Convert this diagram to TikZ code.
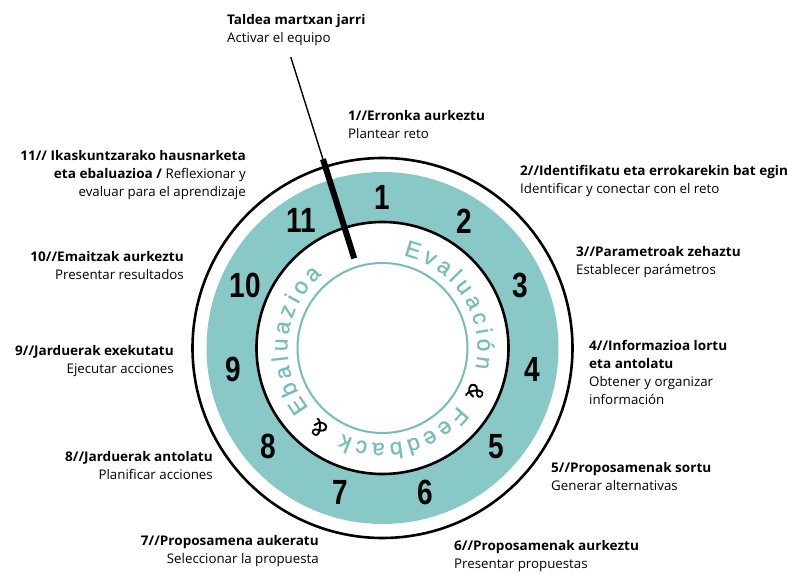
\documentclass[tikz,border=0pt]{standalone}
\usepackage{fontspec}
\setmainfont{Open Sans}[BoldFeatures={FakeStretch=1.02}]
\newfontfamily\numfont[FakeStretch=0.8]{Liberation Sans}
\newfontfamily\arcfont[FakeBold=0.6]{Liberation Sans}
\usepackage{tikz}
\definecolor{ringTeal}{RGB}{136,200,199}
\definecolor{textTeal}{RGB}{118,188,186}

\begin{document}
\begin{tikzpicture}[x=1pt, y=1pt,
  stepnum/.style={font=\numfont\bfseries\fontsize{35}{35}\selectfont, inner sep=0pt},
  stepleft/.style={anchor=west, align=left, inner sep=0pt,
                   font=\fontsize{13.3}{18}\selectfont},
  stepright/.style={anchor=east, align=right, inner sep=0pt,
                    font=\fontsize{13.3}{18}\selectfont},
  arcletter/.style={font=\arcfont\fontsize{23}{23}\selectfont, inner sep=0pt,
                    anchor=base, text=textTeal},
  amp/.style={arcletter, text=black},
]
  \useasboundingbox (-382.5,-225) rectangle (404.5,348);

  % ring
  \fill[ringTeal, even odd rule] (0,0) circle (176) (0,0) circle (126);
  \draw[line width=2.6pt] (0,0) circle (190);
  \draw[line width=2.6pt] (0,0) circle (126);
  \draw[textTeal, line width=2pt] (0,0) circle (85);

  % step numbers
  \node[stepnum] (n1)  at (90:151)      {1};
  \node[stepnum] (n2)  at (57.3:151)    {2};
  \node[stepnum] (n3)  at (24.5:151)    {3};
  \node[stepnum] (n4)  at (-8.2:151)    {4};
  \node[stepnum] (n5)  at (-40.9:151)   {5};
  \node[stepnum] (n6)  at (-73.6:151)   {6};
  \node[stepnum] (n7)  at (-106.4:151)  {7};
  \node[stepnum] (n8)  at (-139.1:151)  {8};
  \node[stepnum] (n9)  at (-171.8:151)  {9};
  \node[stepnum] (n10) at (155.5:151)   {10};
  \node[stepnum] (n11) at (122.7:151)   {11};

  % inner circular text, letter by letter
  \foreach \ch/\ang [count=\i] in {E/72.7, v/62.2, a/52.5, l/44.7, u/36.8,
      a/26.7, c/17.0, i/9.5, ó/1.7, n/-8.4}
    \node[arcletter, rotate=\ang-90] (ev\i) at (\ang:95) {\ch};
  \foreach \ch/\ang [count=\i] in {F/-41.6, e/-52.0, e/-62.1, d/-72.1, b/-82.2,
      a/-92.3, c/-102.0, k/-111.5}
    \node[arcletter, rotate=\ang-90] (fb\i) at (\ang:95) {\ch};
  \foreach \ch/\ang [count=\i] in {E/-145.6, b/-156.1, a/-165.9, l/-173.9, u/-181.8,
      a/-191.6, z/-201.2, i/-208.8, o/-216.7, a/-226.6}
    \node[arcletter, rotate=\ang-90] (eb\i) at (\ang:95) {\ch};
  \node[amp, rotate=-115.3] (amp1) at (-25.3:95) {\&};
  \node[amp, rotate=-218.5] (amp2) at (-128.5:95) {\&};

  % hand
  \coordinate (handtip)  at (107.5:94);
  \coordinate (handknee) at (107.5:198);
  \coordinate (handend)  at (107.5:305);
  \draw[line width=1.4pt] (handend) -- (handknee);
  \draw[line width=6pt] (handknee) -- (handtip);

  % labels
  \node[stepleft] (start) at (-155.5,318) {\textbf{Taldea martxan jarri}\\Activar el equipo};
  \node[stepleft] (s1) at (-34.5,223.5) {\textbf{1//Erronka aurkeztu}\\Plantear reto};
  \node[stepleft] (s2) at (137.5,167) {\textbf{2//Identifikatu eta errokarekin bat egin}\\Identificar y conectar con el reto};
  \node[stepleft] (s3) at (193.5,86) {\textbf{3//Parametroak zehaztu}\\Establecer parámetros};
  \node[stepleft] (s4) at (206.5,-24) {\textbf{4//Informazioa lortu}\\\textbf{eta antolatu}\\Obtener y organizar\\información};
  \node[stepleft] (s5) at (168.5,-129) {\textbf{5//Proposamenak sortu}\\Generar alternativas};
  \node[stepleft] (s6) at (71.5,-208) {\textbf{6//Proposamenak aurkeztu}\\Presentar propuestas};
  \node[stepright] (s7) at (-63.5,-203) {\textbf{7//Proposamena aukeratu}\\Seleccionar la propuesta};
  \node[stepright] (s8) at (-169.5,-118) {\textbf{8//Jarduerak antolatu}\\Planificar acciones};
  \node[stepright] (s9) at (-208.5,-13) {\textbf{9//Jarduerak exekutatu}\\Ejecutar acciones};
  \node[stepright] (s10) at (-198.5,82) {\textbf{10//Emaitzak aurkeztu}\\Presentar resultados};
  \node[stepright] (s11) at (-136.5,173) {\textbf{11// Ikaskuntzarako hausnarketa}\\\textbf{eta ebaluazioa /} Reflexionar y\\evaluar para el aprendizaje};
\end{tikzpicture}
\end{document}
